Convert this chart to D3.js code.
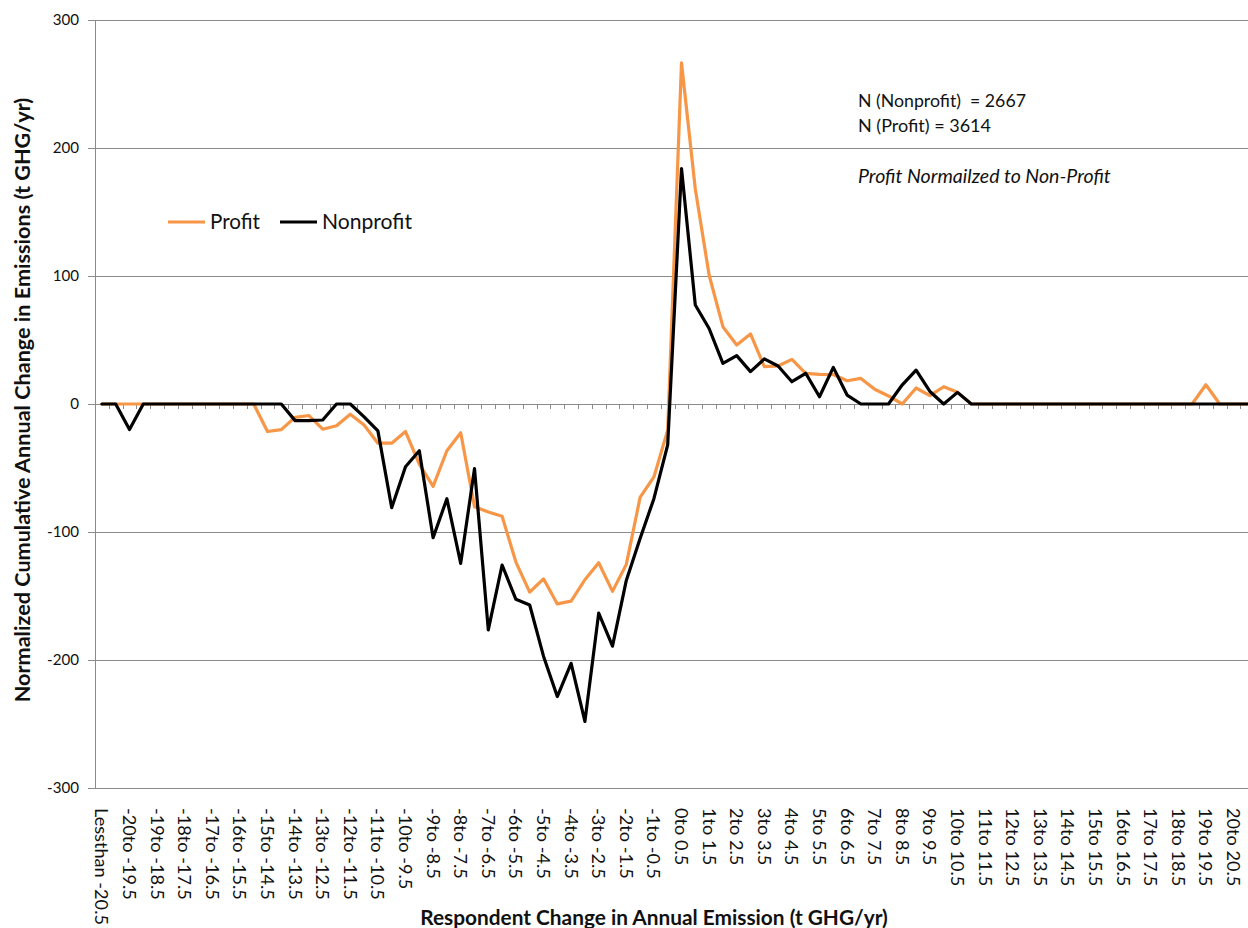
<!DOCTYPE html>
<html>
<head>
<meta charset="utf-8">
<script src="https://cdnjs.cloudflare.com/ajax/libs/d3/7.8.5/d3.min.js"></script>
<style>
  html, body { margin: 0; padding: 0; background: #fff; }
  svg { display: block; font-family: Lato, "Open Sans", "Liberation Sans", sans-serif; }
</style>
</head>
<body>
<svg id="chart" width="1248" height="928"></svg>
<script>
// ---------- DATA ----------
const categories = [
  "Lessthan -20.5","-20.5to -20","-20to -19.5","-19.5to -19","-19to -18.5","-18.5to -18",
  "-18to -17.5","-17.5to -17","-17to -16.5","-16.5to -16","-16to -15.5","-15.5to -15",
  "-15to -14.5","-14.5to -14","-14to -13.5","-13.5to -13","-13to -12.5","-12.5to -12",
  "-12to -11.5","-11.5to -11","-11to -10.5","-10.5to -10","-10to -9.5","-9.5to -9",
  "-9to -8.5","-8.5to -8","-8to -7.5","-7.5to -7","-7to -6.5","-6.5to -6",
  "-6to -5.5","-5.5to -5","-5to -4.5","-4.5to -4","-4to -3.5","-3.5to -3",
  "-3to -2.5","-2.5to -2","-2to -1.5","-1.5to -1","-1to -0.5","-0.5to 0",
  "0to 0.5","0.5to 1","1to 1.5","1.5to 2","2to 2.5","2.5to 3",
  "3to 3.5","3.5to 4","4to 4.5","4.5to 5","5to 5.5","5.5to 6",
  "6to 6.5","6.5to 7","7to 7.5","7.5to 8","8to 8.5","8.5to 9",
  "9to 9.5","9.5to 10","10to 10.5","10.5to 11","11to 11.5","11.5to 12",
  "12to 12.5","12.5to 13","13to 13.5","13.5to 14","14to 14.5","14.5to 15",
  "15to 15.5","15.5to 16","16to 16.5","16.5to 17","17to 17.5","17.5to 18",
  "18to 18.5","18.5to 19","19to 19.5","19.5to 20","20to 20.5","Morethan 20.5"
];

// Labelled categories on the axis (every other one)
const tickLabels = categories.filter((c, i) => i % 2 === 0);

const profit = [
  0, 0, 0, 0, 0, 0, 0, 0, 0, 0, 0, 0,
  -21.5, -20, -10.4, -9, -19.7, -17, -8, -16.4, -30.6, -30.6, -21.5, -47,
  -64.3, -36.5, -22.4, -80.2, -84.3, -87.7, -123.5, -147, -136.6, -156.2, -154, -137.3,
  -124, -146.4, -125.3, -73, -57, -20.4,
  266.6, 168, 100.8, 60.4, 46.1, 54.7, 29.2, 29.7, 34.9, 24, 23.2, 23,
  18.2, 20, 11.5, 6.3, 0, 12.5, 6.5, 13.5, 9.1, 0, 0, 0,
  0, 0, 0, 0, 0, 0, 0, 0, 0, 0, 0, 0,
  0, 0, 15, 0, 0, 0
];

const nonprofit = [
  0, 0, -20, 0, 0, 0, 0, 0, 0, 0, 0, 0,
  0, 0, -13, -13, -12.5, 0, 0, -10, -21, -81, -49, -36.5,
  -104.5, -74, -124.5, -50.5, -176.5, -125.8, -152.6, -157, -197, -228.6, -202.6, -248,
  -163.4, -189.2, -137.8, -105, -74, -32,
  184, 77.3, 59, 31.8, 37.8, 25.3, 35.2, 29.7, 17.4, 24, 5.7, 28.6,
  7, 0, 0, 0, 15, 26.5, 9.8, 0, 9.1, 0, 0, 0,
  0, 0, 0, 0, 0, 0, 0, 0, 0, 0, 0, 0,
  0, 0, 0, 0, 0, 0
];

const yTicks = [-300, -200, -100, 0, 100, 200, 300];

const seriesNames = ["Profit", "Nonprofit"];
const seriesColors = ["#F79646", "#000000"];

const notes = ["N (Nonprofit)  = 2667", "N (Profit) = 3614"];
const noteItalic = "Profit Normailzed to Non-Profit";

const xTitle = "Respondent Change in Annual Emission (t GHG/yr)";
const yTitle = "Normalized Cumulative Annual Change in Emissions (t GHG/yr)";

// ---------- LAYOUT ----------
const svg = d3.select("#chart");
const plotLeft = 95, plotTop = 20, plotBottom = 788;
const bandW = 13.8;
const plotRight = plotLeft + categories.length * bandW;
const gridColor = "#8a8a8a";

const x = d3.scaleBand().domain(categories).range([plotLeft, plotRight]).padding(0);
const xc = c => x(c) + x.bandwidth() / 2;
const y = d3.scaleLinear().domain([-300, 300]).range([plotBottom, plotTop]);
const xEdge = d3.scaleLinear().domain([0, categories.length]).range([plotLeft, plotRight]);

// fit helper: sets font size so the reference text reaches target width
function fitSize(sel, target) {
  sel.attr("font-size", 100);
  const w = sel.node().getComputedTextLength();
  const fs = 100 * target / w;
  sel.attr("font-size", fs);
  return fs;
}

// gridlines
svg.append("g").selectAll("line").data(yTicks).join("line")
  .attr("x1", plotLeft).attr("x2", 1248)
  .attr("y1", d => y(d)).attr("y2", d => y(d))
  .attr("stroke", gridColor).attr("stroke-width", 1)
  .attr("shape-rendering", "crispEdges");

// y axis
const yAxisG = svg.append("g").attr("transform", `translate(${plotLeft},0)`)
  .call(d3.axisLeft(y).tickValues(yTicks).tickSize(7).tickPadding(9).tickFormat(d => String(d)));
yAxisG.select(".domain").attr("stroke", gridColor).attr("shape-rendering", "crispEdges");
yAxisG.selectAll(".tick line").attr("stroke", gridColor).attr("shape-rendering", "crispEdges");
const yTickText = yAxisG.selectAll(".tick text").attr("fill", "#111").attr("font-family", "Lato, sans-serif");
const probe = yAxisG.selectAll(".tick text").filter(d => d === -300);
const yfs = fitSize(probe, 32);
yTickText.attr("font-size", yfs);

// x axis minor ticks at category boundaries on zero line
const xTickG = svg.append("g").attr("transform", `translate(0,${y(0)})`)
  .call(d3.axisBottom(xEdge).tickValues(d3.range(0, categories.length + 1)).tickSize(5).tickFormat(""));
xTickG.select(".domain").remove();
xTickG.selectAll(".tick line").attr("stroke", gridColor).attr("shape-rendering", "crispEdges");

// x labels at bottom
const xLabG = svg.append("g").attr("transform", `translate(0,${plotBottom})`)
  .call(d3.axisBottom(x).tickValues(tickLabels).tickSize(0).tickPadding(0));
xLabG.select(".domain").remove();
const xt = xLabG.selectAll(".tick text")
  .attr("font-family", "Lato, sans-serif")
  .attr("fill", "#111")
  .attr("text-anchor", "start")
  .attr("x", 0).attr("y", 0)
  .attr("dy", "0.36em")
  .attr("transform", "translate(0,20) rotate(90)");
const xprobe = xLabG.selectAll(".tick text").filter(d => d === "Lessthan -20.5");
const xfs = fitSize(xprobe, 117);
xt.attr("font-size", xfs);

// lines
const line = d3.line().x((d, i) => xc(categories[i])).y(d => y(d));
[profit, nonprofit].forEach((vals, k) => {
  svg.append("path").datum(vals)
    .attr("d", line)
    .attr("fill", "none")
    .attr("stroke", seriesColors[k])
    .attr("stroke-width", 3.2)
    .attr("stroke-linejoin", "round")
    .attr("stroke-linecap", "round");
});

// legend
const legendX = [168, 280];
const legendTextX = [210, 322];
const legendW = [50, 90];
seriesNames.forEach((name, k) => {
  svg.append("line")
    .attr("x1", legendX[k]).attr("x2", legendX[k] + 37)
    .attr("y1", 222).attr("y2", 222)
    .attr("stroke", seriesColors[k]).attr("stroke-width", 3.2);
  const t = svg.append("text").attr("x", legendTextX[k]).attr("y", 229)
    .attr("fill", "#111").text(name);
  fitSize(t, legendW[k]);
});

// notes
const noteW = [168, 133];
const noteY = [106.5, 131.5];
notes.forEach((n, k) => {
  const t = svg.append("text").attr("x", 858).attr("y", noteY[k])
    .attr("fill", "#111").style("white-space", "pre").text(n);
  fitSize(t, noteW[k]);
});
const it = svg.append("text").attr("x", 858).attr("y", 183)
  .attr("fill", "#111").attr("font-style", "italic").text(noteItalic);
fitSize(it, 253);

// axis titles
const xt2 = svg.append("text").attr("x", 654).attr("y", 925)
  .attr("text-anchor", "middle").attr("font-weight", "bold").attr("fill", "#111").text(xTitle);
fitSize(xt2, 468);

const yt2 = svg.append("text")
  .attr("transform", "translate(30,400) rotate(-90)")
  .attr("text-anchor", "middle").attr("font-weight", "bold").attr("fill", "#111").text(yTitle);
fitSize(yt2, 605);
</script>
</body>
</html>
